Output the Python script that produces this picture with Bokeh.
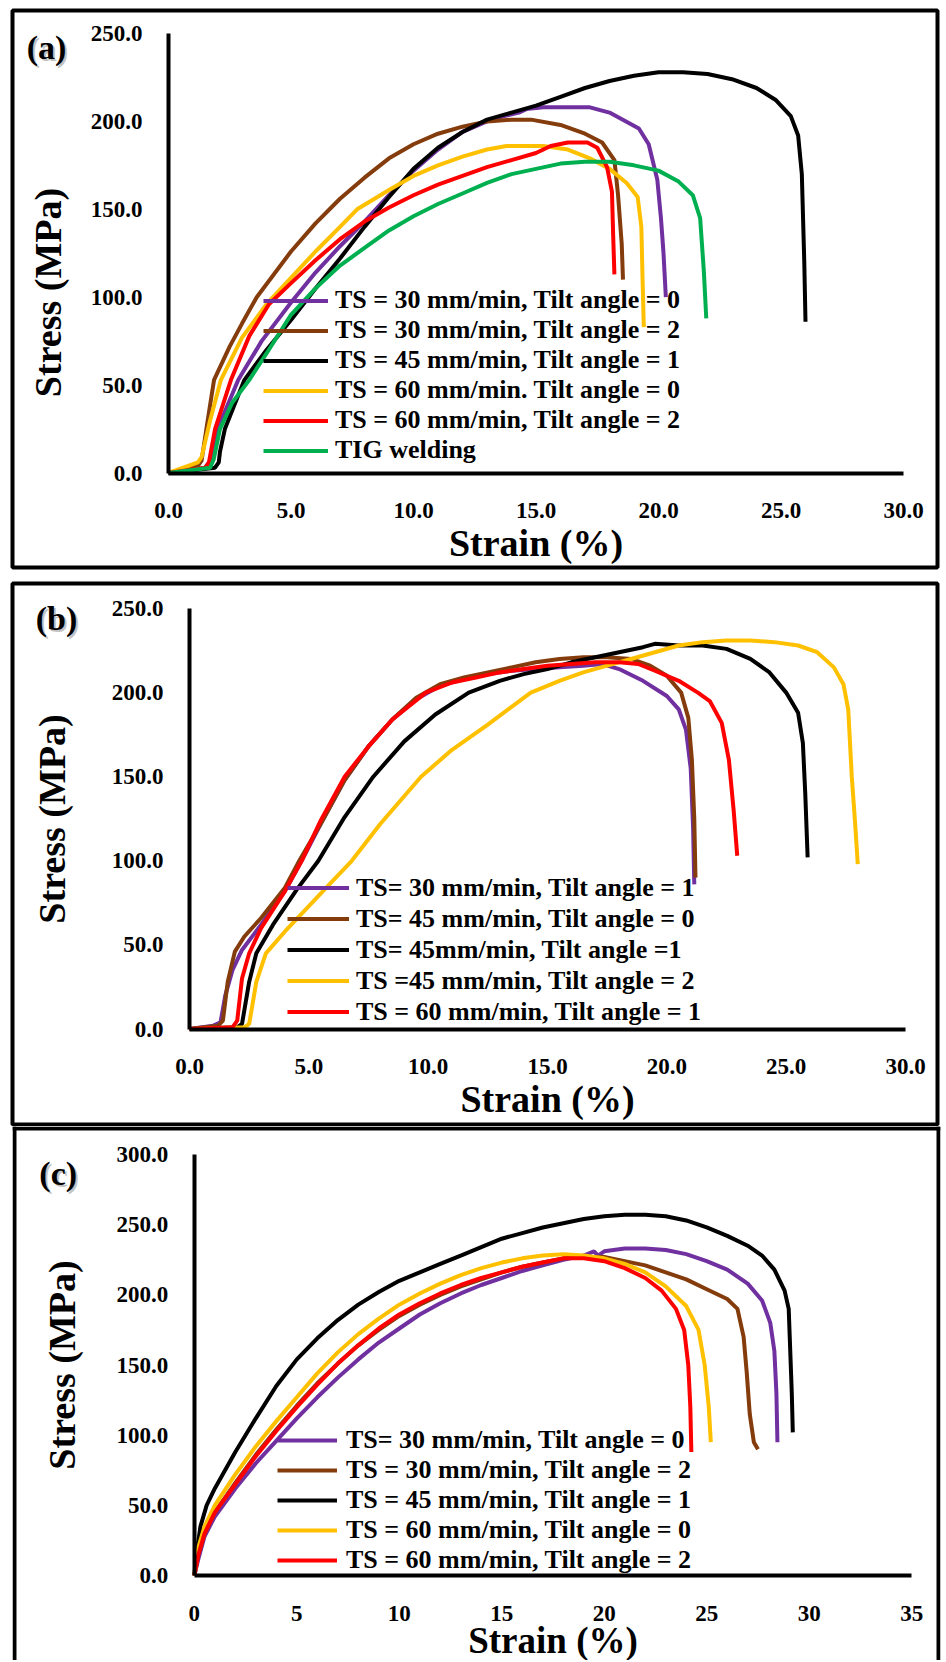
import math
from bokeh.plotting import figure
from bokeh.models import (LinearAxis, FixedTicker, NumeralTickFormatter, Legend,
                          LegendItem, Range1d, Label, Span)
from bokeh.layouts import column
from bokeh.embed import file_html
from bokeh.resources import INLINE

# ---------------- DATA ----------------
# Panel (a)
a_labels = ["TS = 30 mm/min, Tilt angle = 0", "TS = 30 mm/min, Tilt angle = 2",
            "TS = 45 mm/min, Tilt angle = 1", "TS = 60 mm/min. Tilt angle = 0",
            "TS = 60 mm/min, Tilt angle = 2", "TIG welding"]
a_s1_x = [0, 1.5, 1.7, 2.0, 2.85, 3.8, 5, 6, 7, 8, 9, 10, 11, 12, 13, 13.7, 14.3, 14.6, 15.3, 16, 17.2, 18.0, 19.2, 19.6, 19.95, 20.1, 20.2, 20.3]
a_s1_y = [0, 3, 7, 25, 53, 75, 97, 114, 129, 143, 158, 172, 184, 194, 200, 203, 205, 207, 208, 208, 208, 205, 196, 187, 167, 145, 126, 100]
a_s2_x = [0, 1.2, 1.35, 1.6, 1.86, 2.5, 3.0, 3.6, 5, 6, 7, 8, 9, 10, 11, 12, 13, 14, 14.8, 16, 17, 17.7, 18.2, 18.35, 18.5, 18.55]
a_s2_y = [0, 4, 7, 30, 53, 72, 85, 100, 126, 142, 156, 168, 179, 187, 193, 197, 200, 201, 201, 198, 193, 188, 178, 158, 130, 110]
a_s3_x = [0, 1.9, 2.05, 2.1, 2.3, 3.1, 4, 5, 6, 7, 8, 9, 10, 11, 12, 13, 14, 15, 16, 17, 18, 19, 20, 21, 22, 23, 24, 24.8, 25.4, 25.7, 25.85, 25.95, 26.0]
a_s3_y = [0, 3, 6, 12, 25, 53, 70, 87, 105, 122, 140, 157, 173, 185, 194, 201, 205, 209, 214, 219, 223, 226, 228, 228, 227, 224, 219, 212, 203, 192, 170, 120, 86]
a_s4_x = [0, 1.2, 1.35, 1.7, 2.14, 3, 4, 5, 6, 7, 7.7, 9, 10, 11, 12, 13, 13.8, 15.3, 16.3, 17.2, 18.0, 18.7, 19.15, 19.3, 19.35, 19.4]
a_s4_y = [0, 6, 9, 30, 53, 77, 96, 111, 126, 140, 150, 161, 169, 175, 180, 184, 186, 186, 184, 179, 173, 165, 157, 140, 110, 83]
a_s5_x = [0, 1.5, 1.65, 1.9, 2.55, 3.3, 4.1, 5, 6, 7, 8, 9, 10, 11, 12, 13, 14, 15, 15.6, 16.3, 17.1, 17.5, 17.9, 18.1, 18.15, 18.2]
a_s5_y = [0, 3, 6, 25, 53, 78, 96, 108, 121, 133, 143, 151, 158, 164, 169, 174, 178, 182, 186, 188, 188, 185, 174, 160, 135, 113]
a_s6_x = [0, 1.7, 1.85, 2.1, 2.6, 3.3, 4, 5, 6, 7, 8, 9, 10, 11, 12, 13, 14, 15, 16, 17, 18, 19, 20, 20.8, 21.4, 21.7, 21.85, 21.95]
a_s6_y = [0, 3, 8, 25, 40, 53, 68, 90, 105, 118, 128, 138, 146, 153, 159, 165, 170, 173, 176, 177, 177, 175, 172, 166, 158, 145, 115, 88]
a_xticks = [0, 5, 10, 15, 20, 25, 30]
a_yticks = [0, 50, 100, 150, 200, 250]

# Panel (b)
b_labels = ["TS= 30 mm/min, Tilt angle = 1", "TS= 45 mm/min, Tilt angle = 0",
            "TS= 45mm/min, Tilt angle =1", "TS =45 mm/min, Tilt angle = 2",
            "TS = 60 mm/min, Tilt angle = 1"]
b_s1_x = [0, 1.0, 1.3, 1.5, 1.8, 2.2, 3, 4, 4.7, 5.5, 6.5, 7.5, 8.5, 9.5, 10.5, 11.5, 12.5, 13.5, 14.5, 15.5, 16.5, 17.3, 18, 19, 20, 20.5, 20.8, 21.0, 21.1, 21.15]
b_s1_y = [0, 2, 4, 20, 35, 47, 62, 82, 100, 122, 148, 168, 184, 196, 204, 208, 211, 213, 214, 215, 216, 217, 214, 207, 198, 190, 178, 155, 120, 86]
b_s2_x = [0, 1.2, 1.4, 1.6, 1.9, 2.3, 3, 4, 4.6, 5.5, 6.5, 7.5, 8.5, 9.5, 10.5, 11.5, 12.5, 13.5, 14.5, 15.5, 16.5, 17.5, 18.5, 19.3, 20.0, 20.6, 20.9, 21.05, 21.15, 21.2]
b_s2_y = [0, 2, 5, 28, 46, 55, 66, 84, 100, 122, 148, 168, 184, 197, 205, 209, 212, 215, 218, 220, 221, 221, 220, 216, 210, 200, 185, 160, 125, 90]
b_s3_x = [0, 2.0, 2.2, 2.5, 2.8, 3.5, 4.5, 5.4, 6.5, 7.7, 9, 10.3, 11.7, 13, 14, 15, 16, 17, 18, 19, 19.5, 20.5, 21.5, 22.5, 23.5, 24.3, 25, 25.5, 25.7, 25.8, 25.9]
b_s3_y = [0, 1, 3, 28, 45, 62, 83, 100, 126, 150, 171, 187, 200, 207, 211, 214, 218, 221, 224, 227, 229, 228, 228, 226, 220, 212, 200, 188, 170, 140, 102]
b_s4_x = [0, 2.3, 2.5, 2.8, 3.2, 4, 5, 6, 6.8, 8, 9.7, 11, 12.5, 14.3, 15.5, 16.5, 17.5, 18.5, 19.5, 20.5, 21.5, 22.5, 23.5, 24.5, 25.5, 26.3, 27, 27.4, 27.6, 27.75, 27.9, 28.0]
b_s4_y = [0, 1, 3, 28, 45, 58, 73, 88, 100, 122, 150, 166, 181, 200, 207, 212, 216, 220, 224, 228, 230, 231, 231, 230, 228, 224, 215, 205, 190, 150, 120, 98]
b_s5_x = [0, 1.8, 2.0, 2.2, 2.5, 3, 4, 4.7, 5.5, 6.5, 7.5, 8.5, 9.9, 11, 12, 13, 14, 15, 16, 17, 18, 18.8, 19.5, 20.5, 21.3, 21.8, 22.3, 22.6, 22.8, 22.95]
b_s5_y = [0, 1, 5, 30, 45, 60, 82, 100, 124, 150, 168, 184, 200, 206, 209, 212, 214, 216, 217, 218, 218, 217, 213, 207, 200, 195, 182, 160, 130, 103]
b_xticks = [0, 5, 10, 15, 20, 25, 30]
b_yticks = [0, 50, 100, 150, 200, 250]

# Panel (c)
c_labels = ["TS= 30 mm/min, Tilt angle = 0", "TS = 30 mm/min, Tilt angle = 2",
            "TS = 45 mm/min, Tilt angle = 1", "TS = 60 mm/min, Tilt angle = 0",
            "TS = 60 mm/min, Tilt angle = 2"]
c_s1_x = [0, 0.2, 0.5, 1, 2, 3, 4, 5, 6, 7, 8, 9, 10, 11, 12, 13, 14, 15, 16, 17, 18, 19, 19.5, 19.7, 20, 21, 22, 23, 24, 25, 26, 27, 27.7, 28.1, 28.3, 28.4, 28.45]
c_s1_y = [0, 12, 28, 42, 62, 80, 96, 112, 127, 141, 154, 166, 176, 186, 194, 201, 207, 212, 217, 221, 225, 228, 231, 228, 231, 233, 233, 232, 229, 224, 218, 208, 196, 180, 160, 130, 95]
c_s2_x = [0, 0.2, 0.5, 1, 2, 3, 4, 5, 6, 7, 8, 9, 10, 11, 12, 13, 14, 15, 16, 17, 18, 19, 20, 21, 22, 23, 24, 25, 26, 26.5, 26.8, 26.95, 27.1, 27.3, 27.5]
c_s2_y = [0, 15, 30, 45, 66, 86, 104, 121, 137, 151, 164, 175, 185, 193, 200, 206, 211, 216, 220, 223, 226, 227, 227, 224, 221, 216, 211, 204, 197, 190, 170, 145, 115, 95, 90]
c_s3_x = [0, 0.1, 0.3, 0.6, 1, 1.5, 2, 3, 4, 5, 6, 7, 8, 9, 10, 11, 12, 13, 14, 15, 16, 17, 18, 19, 20, 21, 22, 23, 24, 25, 26, 27, 27.7, 28.3, 28.8, 29.0, 29.05, 29.15, 29.2]
c_s3_y = [0, 15, 35, 50, 62, 75, 88, 112, 135, 154, 169, 182, 193, 202, 210, 216, 222, 228, 234, 240, 244, 248, 251, 254, 256, 257, 257, 256, 253, 248, 242, 235, 228, 218, 203, 190, 170, 130, 102]
c_s4_x = [0, 0.2, 0.5, 1, 2, 3, 4, 5, 6, 7, 8, 9, 10, 11, 12, 13, 14, 15, 16, 17, 18, 19, 20, 21, 22, 23, 24, 24.6, 24.9, 25.1, 25.2]
c_s4_y = [0, 20, 35, 50, 72, 92, 110, 127, 144, 159, 172, 183, 193, 201, 208, 214, 219, 223, 226, 228, 229, 228, 226, 222, 216, 206, 192, 175, 150, 120, 95]
c_s5_x = [0, 0.2, 0.5, 1, 2, 3, 4, 5, 6, 7, 8, 9, 10, 11, 12, 13, 14, 15, 16, 17, 18, 19, 20, 21, 22, 22.8, 23.5, 23.9, 24.1, 24.2, 24.25]
c_s5_y = [0, 15, 30, 45, 65, 85, 103, 120, 136, 151, 164, 176, 186, 194, 201, 207, 212, 216, 220, 223, 226, 226, 224, 219, 212, 203, 190, 175, 150, 120, 88]
c_xticks = [0, 5, 10, 15, 20, 25, 30, 35]
c_yticks = [0, 50, 100, 150, 200, 250, 300]

PURPLE, BROWN, BLACK, YELLOW, RED, GREEN = "#7030A0", "#843C0C", "#000000", "#FFC000", "#FF0000", "#00B050"
FONT = "Liberation Serif"


def make_panel(W, H, origin, mb, xmap, ymap, xbounds, ybounds, xticks, yticks, xfmt,
               series, labels, colors, leg, letter, letter_pos,
               ylab_standoff, xlab_standoff, xlab_size="38px", ylab_pos=None, border_box=None):
    ox, oy = origin
    fl, fr = ox + mb[0], ox + W - mb[1]
    ft, fb = oy + mb[2], oy + H - mb[3]
    (xp0, xv0), (xp1, xv1) = xmap
    sx = (xp1 - xp0) / (xv1 - xv0)
    (yp0, yv0), (yp1, yv1) = ymap
    sy = (yp0 - yp1) / (yv1 - yv0)
    x_start = xv0 + (fl - xp0) / sx
    x_end = xv0 + (fr - xp0) / sx
    y_start = yv0 - (fb - yp0) / sy
    y_end = yv0 + (yp0 - ft) / sy

    def dx(px):
        return xv0 + (px - xp0) / sx

    def dy(py):
        return yv0 + (yp0 - py) / sy

    p = figure(width=W, height=H, x_range=Range1d(x_start, x_end), y_range=Range1d(y_start, y_end),
               x_axis_type=None, y_axis_type=None, toolbar_location=None, output_backend="svg",
               min_border_left=mb[0], min_border_right=mb[1], min_border_top=mb[2], min_border_bottom=mb[3])
    p.background_fill_color = "white"
    p.border_fill_color = "white"
    if border_box is None:
        p.outline_line_color = "black"
        p.outline_line_width = 4
    else:
        # open-bottomed frame: left, right and top edges only
        p.outline_line_color = None
        bl, br, bt = border_box
        for loc, dim in ((dx(bl), "height"), (dx(br), "height"), (dy(bt), "width")):
            p.add_layout(Span(location=loc, dimension=dim, line_color="black", line_width=4))

    renderers = []
    for (xs, ys), c in zip(series, colors):
        r = p.line(xs, ys, line_color=c, line_width=4)
        renderers.append(r)

    xa = LinearAxis(fixed_location=0, bounds=xbounds, ticker=FixedTicker(ticks=xticks),
                    formatter=NumeralTickFormatter(format=xfmt), axis_label="Strain (%)")
    ya = LinearAxis(fixed_location=0, bounds=ybounds, ticker=FixedTicker(ticks=yticks),
                    formatter=NumeralTickFormatter(format="0.0"),
                    axis_label=None if ylab_pos else "Stress (MPa)")
    for ax in (xa, ya):
        ax.axis_line_width = 4
        ax.axis_line_color = "black"
        ax.major_tick_line_color = None
        ax.minor_tick_line_color = None
        ax.major_label_text_font = FONT
        ax.major_label_text_font_style = "bold"
        ax.major_label_text_font_size = "23px"
        ax.major_label_text_color = "black"
        ax.axis_label_text_font = FONT
        ax.axis_label_text_font_style = "bold"
        ax.axis_label_text_font_size = "38px"
        ax.axis_label_text_color = "black"
    xa.axis_label_text_font_size = xlab_size
    xa.major_label_standoff = 24
    ya.major_label_standoff = 20
    xa.axis_label_standoff = xlab_standoff
    ya.axis_label_standoff = ylab_standoff
    p.add_layout(xa, "below")
    p.add_layout(ya, "left")

    if ylab_pos:
        p.add_layout(Label(x=dx(ylab_pos[0]), y=dy(ylab_pos[1]), text="Stress (MPa)", angle=math.pi / 2,
                           text_font=FONT, text_font_style="bold", text_font_size="38px",
                           text_color="black", text_align="center", text_baseline="middle"))

    gx, gy, gw, gh, stand = leg
    legend = Legend(items=[LegendItem(label=l, renderers=[r]) for l, r in zip(labels, renderers)],
                    location=(gx - fl, fb - gy), glyph_width=gw, glyph_height=gh, label_height=gh,
                    label_standoff=stand, spacing=0, padding=0, margin=0,
                    border_line_color=None, background_fill_alpha=0,
                    label_text_font=FONT, label_text_font_style="bold",
                    label_text_font_size="26px", label_text_color="black")
    p.add_layout(legend)

    lx, ly = dx(letter_pos[0]), dy(letter_pos[1])
    p.add_layout(Label(x=lx, y=ly, text=letter, text_font=FONT, text_font_style="bold",
                       text_font_size="34px", text_color="#999999", text_alpha=0.6,
                       text_align="center", text_baseline="middle", x_offset=2, y_offset=-2))
    p.add_layout(Label(x=lx, y=ly, text=letter, text_font=FONT, text_font_style="bold",
                       text_font_size="34px", text_color="black",
                       text_align="center", text_baseline="middle"))
    return p


pa = make_panel(941, 575, (0, 0), (12, 4, 10, 8),
                ((168, 0), (903, 30)), ((472.5, 0), (33, 250)), (0, 30), (0, 250),
                a_xticks, a_yticks, "0.0",
                [(a_s1_x, a_s1_y), (a_s2_x, a_s2_y), (a_s3_x, a_s3_y), (a_s4_x, a_s4_y),
                 (a_s5_x, a_s5_y), (a_s6_x, a_s6_y)],
                a_labels, [PURPLE, BROWN, BLACK, YELLOW, RED, GREEN],
                (263, 465, 65, 29, 7), "(a)", (46, 47), 22, 0, ylab_pos=(47, 292))

pb = make_panel(941, 551, (0, 575), (12, 4, 8, 2),
                ((189, 0), (905, 30)), ((1028.5, 0), (608, 250)), (0, 30), (0, 250),
                b_xticks, b_yticks, "0.0",
                [(b_s1_x, b_s1_y), (b_s2_x, b_s2_y), (b_s3_x, b_s3_y), (b_s4_x, b_s4_y),
                 (b_s5_x, b_s5_y)],
                b_labels, [PURPLE, BROWN, BLACK, YELLOW, RED],
                (287, 1027, 62, 31, 7), "(b)", (56, 618), 36, 0)

pc = make_panel(944, 534, (0, 1126), (10, 0, 0, 0),
                ((193, 0), (915, 35)), ((1575, 0), (1154, 300)), (0, 35), (0, 300),
                c_xticks, c_yticks, "0",
                [(c_s1_x, c_s1_y), (c_s2_x, c_s2_y), (c_s3_x, c_s3_y), (c_s4_x, c_s4_y),
                 (c_s5_x, c_s5_y)],
                c_labels, [PURPLE, BROWN, BLACK, YELLOW, RED],
                (275, 1575, 60, 30, 9), "(c)", (56, 1173), 31, -4, xlab_size="37px",
                border_box=(12, 942, 1128))

layout = column(pa, pb, pc, spacing=0)
open("out.html", "w").write(file_html(layout, INLINE))
